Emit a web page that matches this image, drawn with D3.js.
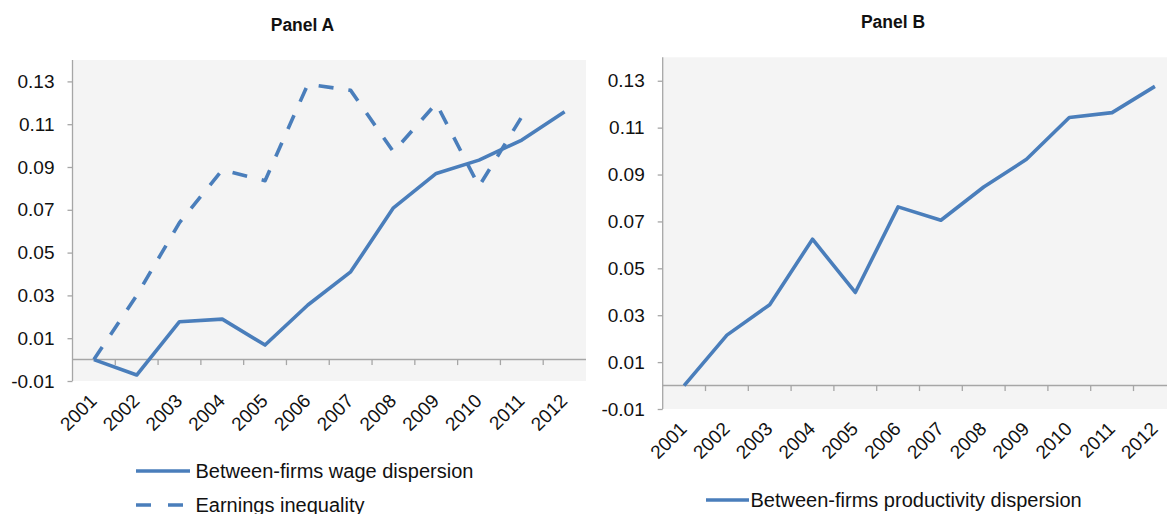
<!DOCTYPE html>
<html>
<head>
<meta charset="utf-8">
<script src="https://cdn.jsdelivr.net/npm/d3@7/dist/d3.min.js"></script>
<style>
  html, body { margin: 0; padding: 0; background: #fff; overflow: hidden; }
  svg { display: block; font-family: "Liberation Sans", Arial, sans-serif; }
</style>
</head>
<body>
<svg id="chart" width="1167" height="514"></svg>
<script>
// ---- Data ----
const years = ["2001","2002","2003","2004","2005","2006","2007","2008","2009","2010","2011","2012"];
const wageDispersion = [0, -0.0072, 0.0177, 0.0189, 0.0068, 0.0255, 0.041, 0.0709, 0.087, 0.0932, 0.1026, 0.1158];
const earningsYears = ["2001","2002","2003","2004","2005","2006","2007","2008","2009","2010","2011"];
const earningsInequality = [0, 0.030, 0.064, 0.0886, 0.0836, 0.1287, 0.1258, 0.0971, 0.1197, 0.081, 0.1135];
const productivityDispersion = [0, 0.0215, 0.0345, 0.0624, 0.0397, 0.0762, 0.0705, 0.0847, 0.0965, 0.1143, 0.1164, 0.1276];
const yTicks = [-0.01, 0.01, 0.03, 0.05, 0.07, 0.09, 0.11, 0.13];
const yDomain = [-0.01, 0.14];
const panelTitles = ["Panel A", "Panel B"];
const legendA = ["Between-firms wage dispersion", "Earnings inequality"];
const legendB = ["Between-firms productivity dispersion"];

const svg = d3.select("#chart");
const blue = "#4a7ebb";
const grey = "#a6a6a6";

function drawPanel(cfg) {
  const x = d3.scaleBand().domain(years).range([cfg.left, cfg.right]).paddingInner(0).paddingOuter(0);
  const y = d3.scaleLinear().domain(yDomain).range([cfg.bottom, cfg.top]);
  const g = svg.append("g");

  // plot background
  g.append("rect")
    .attr("x", cfg.left).attr("y", cfg.top)
    .attr("width", cfg.right - cfg.left).attr("height", cfg.bottom - cfg.top)
    .attr("fill", "#f4f4f4");

  // y axis
  const yAxis = d3.axisLeft(y).tickValues(yTicks).tickSize(5).tickPadding(13)
    .tickFormat(d => d3.format(".2f")(d).replace("−", "-"));
  const ya = g.append("g").attr("transform", `translate(${cfg.left},0)`).call(yAxis);
  ya.select(".domain").attr("stroke", grey).attr("stroke-width", 1.3)
    .attr("d", `M0,${cfg.top}V${cfg.bottom}`);
  ya.selectAll(".tick line").attr("stroke", grey).attr("stroke-width", 1.3);
  ya.selectAll(".tick text").attr("font-size", 19).attr("fill", "#111")
    .attr("font-family", "Liberation Sans, Arial, sans-serif");

  // zero line with band-boundary ticks
  const y0 = y(0);
  g.append("line").attr("x1", cfg.left).attr("x2", cfg.right)
    .attr("y1", y0).attr("y2", y0).attr("stroke", grey).attr("stroke-width", 1.5);
  g.selectAll(".xt").data(years.slice(1)).enter().append("line")
    .attr("x1", d => x(d)).attr("x2", d => x(d))
    .attr("y1", y0).attr("y2", y0 + 5.5)
    .attr("stroke", grey).attr("stroke-width", 1.3);

  // x labels
  g.selectAll(".xl").data(years).enter().append("text")
    .attr("transform", d => `translate(${x(d) + x.bandwidth() / 2 + 4},${cfg.bottom + 21}) rotate(-45)`)
    .attr("text-anchor", "end")
    .attr("font-size", 19).attr("fill", "#111")
    .text(d => d);

  // title
  g.append("text").attr("x", cfg.titleX).attr("y", cfg.titleY)
    .attr("text-anchor", "middle").attr("font-weight", "bold").attr("font-size", 17.5)
    .attr("fill", "#111").text(cfg.title);

  const line = d3.line().x(d => x(d[0]) + x.bandwidth() / 2).y(d => y(d[1]));
  cfg.series.forEach(s => {
    g.append("path").datum(s.cats.map((c, i) => [c, s.vals[i]]))
      .attr("d", line).attr("fill", "none").attr("stroke", blue)
      .attr("stroke-width", 3.6).attr("stroke-linejoin", "round")
      .attr("stroke-dasharray", s.dash || null);
  });

  // legend
  cfg.legend.forEach(l => {
    g.append("line").attr("x1", l.x1).attr("x2", l.x2).attr("y1", l.y).attr("y2", l.y)
      .attr("stroke", blue).attr("stroke-width", 3.6)
      .attr("stroke-dasharray", l.dash || null);
    g.append("text").attr("x", l.tx).attr("y", l.y).attr("dy", "0.35em")
      .attr("font-size", 20).attr("fill", "#111").text(l.label);
  });
}

drawPanel({
  left: 72.5, right: 586, top: 60, bottom: 381,
  title: panelTitles[0], titleX: 302.5, titleY: 31,
  series: [
    { cats: years, vals: wageDispersion },
    { cats: earningsYears, vals: earningsInequality, dash: "15,15" }
  ],
  legend: [
    { x1: 136, x2: 190, y: 471, tx: 195.5, label: legendA[0] },
    { x1: 136, x2: 190, y: 505, tx: 195.5, label: legendA[1], dash: "15,17" }
  ]
});

drawPanel({
  left: 662.7, right: 1176.3, top: 57.3, bottom: 409,
  title: panelTitles[1], titleX: 893, titleY: 28,
  series: [
    { cats: years, vals: productivityDispersion }
  ],
  legend: [
    { x1: 706, x2: 749, y: 500, tx: 750.5, label: legendB[0] }
  ]
});
</script>
</body>
</html>
